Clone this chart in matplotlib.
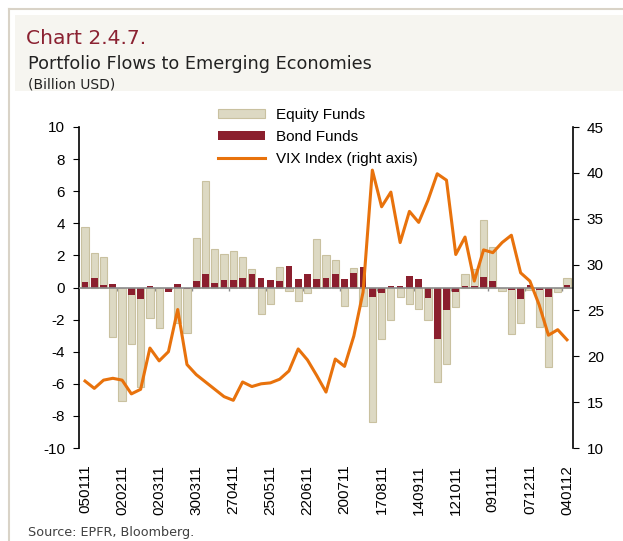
import matplotlib.pyplot as plt
from matplotlib.patches import Rectangle, Patch
from matplotlib.lines import Line2D

plt.rcParams['axes.unicode_minus'] = False

# weekly data, 05.01.2011 - 04.01.2012
equity = [3.74, 2.18, 1.89, -3.1, -7.1, -3.5, -6.2, -1.9, -2.5, -0.1,
          -2.2, -2.82, 3.07, 6.62, 2.37, 2.1, 2.3, 1.93, 1.18, -1.62,
          -1.04, 1.27, -0.23, -0.83, -0.35, 3.01, 2.0, 1.74, -1.14, 1.2,
          -1.18, -8.4, -3.18, -2.05, -0.58, -1.0, -1.33, -2.05, -5.86, -4.74,
          -1.2, 0.81, 1.14, 4.2, 2.53, -0.21, -2.87, -2.24, -0.15, -2.43,
          -4.96, -0.31, 0.62]
bond = [0.35, 0.62, 0.15, 0.2, 0.0, -0.45, -0.73, 0.08, 0.0, -0.25,
        0.2, -0.1, 0.4, 0.87, 0.29, 0.48, 0.44, 0.58, 0.87, 0.58,
        0.48, 0.4, 1.37, 0.54, 0.83, 0.52, 0.62, 0.85, 0.52, 0.89,
        1.3, -0.6, -0.33, 0.12, 0.08, 0.69, 0.54, -0.66, -3.18, -1.41,
        -0.27, 0.1, 0.1, 0.66, 0.42, 0.0, -0.17, -0.71, 0.17, -0.17,
        -0.58, 0.0, 0.17]
vix = [17.3, 16.5, 17.4, 17.6, 17.4, 15.9, 16.4, 20.9, 19.5, 20.5,
       25.1, 19.1, 18.0, 17.2, 16.4, 15.6, 15.2, 17.2, 16.7, 17.0,
       17.1, 17.5, 18.4, 20.8, 19.6, 17.9, 16.1, 19.7, 18.9, 22.2,
       27.0, 40.3, 36.3, 37.9, 32.4, 35.8, 34.6, 37.0, 39.9, 39.2,
       31.1, 33.0, 28.2, 31.6, 31.3, 32.4, 33.2, 29.1, 28.2, 25.6,
       22.3, 22.9, 21.8]
tick_labels = ['050111', '020211', '020311', '300311', '270411', '250511',
               '220611', '200711', '170811', '140911', '121011', '091111',
               '071211', '040112']

x = list(range(len(equity)))

fig = plt.figure(figsize=(6.23, 5.41), dpi=100)

# frame and header band
fig.add_artist(Line2D([9/623, 1], [1-9/541, 1-9/541], color='#d9d3c7', lw=1.5))
fig.add_artist(Line2D([9/623, 9/623], [0, 1-9/541], color='#d9d3c7', lw=1.5))
fig.add_artist(Rectangle((15/623, 1-91/541), 1-15/623, 76/541,
                         color='#f6f5f0', lw=0, zorder=0))

fig.text(26/623, 1-44/541, 'Chart 2.4.7.', color='#8b2232', fontsize=14.6,
         family='DejaVu Sans')
fig.text(28/623, 1-69/541, 'Portfolio Flows to Emerging Economies',
         color='#222222', fontsize=12.7, family='DejaVu Sans')
fig.text(28/623, 1-88/541, '(Billion USD)', color='#222222', fontsize=10,
         family='DejaVu Sans')
fig.text(28/623, 1-536/541, 'Source: EPFR, Bloomberg.', color='#404040',
         fontsize=9.2, family='DejaVu Sans')

ax = fig.add_axes([79/623, 1-448/541, 494/623, 321/541])
ax.bar(x, equity, width=0.78, color='#ddd9c3', edgecolor='#c9c1a0',
       linewidth=0.8, zorder=2)
ax.bar(x, bond, width=0.72, color='#8b1f2e', linewidth=0, zorder=2.5)
ax.axhline(0, color='#8c8c8c', lw=1.2, zorder=3)
ax.vlines([b + 0.5 for b in range(3, 53, 4)], -0.2, 0, color='#8c8c8c',
          lw=1, zorder=1)

ax.set_xlim(-0.65, 52.65)
ax.set_ylim(-10, 10)
ax.set_yticks(range(-10, 11, 2))
ax.set_xticks(range(0, 53, 4))
ax.set_xticklabels(tick_labels, rotation=90, family='Liberation Sans',
                   fontsize=11)
ax.tick_params(axis='x', length=0, pad=12)
ax.tick_params(axis='y', length=4, width=0.8, labelsize=11, pad=6)
for lab in ax.get_yticklabels():
    lab.set_family('Liberation Sans')
for s in ['top', 'bottom', 'right']:
    ax.spines[s].set_visible(False)
ax.spines['left'].set_linewidth(1.2)

ax2 = ax.twinx()
ax2.plot(x, vix, color='#e8720c', lw=2.2, zorder=4)
ax2.set_ylim(10, 45)
ax2.set_yticks(range(10, 46, 5))
ax2.tick_params(axis='y', length=4, width=0.8, labelsize=11, pad=6)
for lab in ax2.get_yticklabels():
    lab.set_family('Liberation Sans')
for s in ['top', 'bottom', 'left']:
    ax2.spines[s].set_visible(False)
ax2.spines['right'].set_linewidth(1.2)

handles = [Patch(facecolor='#ddd9c3', edgecolor='#c9c1a0', lw=0.8),
           Patch(facecolor='#8b1f2e', lw=0),
           Line2D([], [], color='#e8720c', lw=2.2)]
ax2.legend(handles, ['Equity Funds', 'Bond Funds', 'VIX Index (right axis)'],
           loc='upper left', bbox_to_anchor=(218/623, 1-108/541),
           bbox_transform=fig.transFigure, frameon=False, borderpad=0,
           borderaxespad=0, handlelength=3.1, handleheight=0.5,
           handletextpad=0.7, labelspacing=0.53,
           prop={'family': 'Liberation Sans', 'size': 11})

fig.savefig('out.png', dpi=100)
